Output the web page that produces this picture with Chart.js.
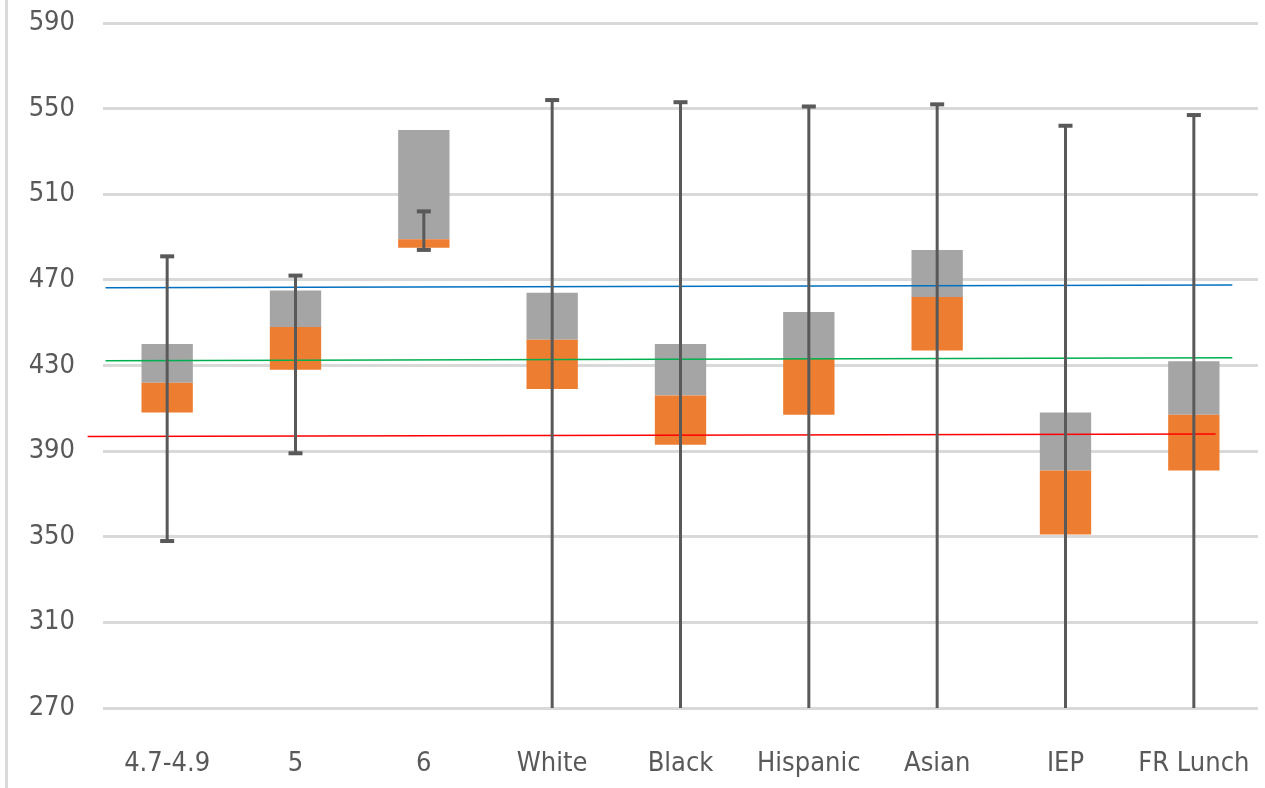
<!DOCTYPE html>
<html>
<head>
<meta charset="utf-8">
<script src="https://cdn.jsdelivr.net/npm/chart.js@4/dist/chart.umd.min.js"></script>
<style>
  html, body { margin: 0; padding: 0; background: #ffffff; }
  #wrap { position: relative; width: 1265px; height: 788px; }
</style>
</head>
<body>
<div id="wrap"><canvas id="c" width="1265" height="788"></canvas></div>
<script>
const categories = ['4.7-4.9', '5', '6', 'White', 'Black', 'Hispanic', 'Asian', 'IEP', 'FR Lunch'];
const q1Values     = [408, 428, 485, 419, 393, 407, 437, 351, 381];
const medianValues = [422, 448, 489, 442, 416, 433, 462, 381, 407];
const q3Values     = [440, 465, 540, 464, 440, 455, 484, 408, 432];
const whiskerHigh  = [481, 472, 502, 554, 553, 551, 552, 542, 547];
const whiskerLow   = [348, 389, 484, 260, 260, 260, 260, 260, 260];
const yTicks = [270, 310, 350, 390, 430, 470, 510, 550, 590];
// Reference lines: [x position in category units, value]
const blueLine  = [[-0.48, 466.3], [8.30, 467.6]];
const greenLine = [[-0.48, 432.2], [8.30, 433.6]];
const redLine   = [[-0.62, 396.8], [8.17, 398.0]];

const FONT = "'DejaVu Sans Condensed', 'DejaVu Sans', sans-serif";

const lowerBox = categories.map((c, i) => [q1Values[i], medianValues[i]]);
const upperBox = categories.map((c, i) => [medianValues[i], q3Values[i]]);
const toPts = arr => arr.map(p => ({ x: p[0], y: p[1] }));

const framePlugin = {
  id: 'frame',
  beforeDraw(chart) {
    const ctx = chart.ctx;
    ctx.save();
    ctx.fillStyle = '#ffffff';
    ctx.fillRect(0, 0, chart.width, chart.height);
    ctx.fillStyle = '#d9d9d9';
    ctx.fillRect(5, 0, 3, chart.height);
    ctx.restore();
  }
};

const whiskerPlugin = {
  id: 'whiskers',
  afterDatasetsDraw(chart) {
    const { ctx, chartArea, scales } = chart;
    const x = scales.x, y = scales.y;
    ctx.save();
    ctx.beginPath();
    ctx.rect(chartArea.left, chartArea.top - 10, chartArea.right - chartArea.left, chartArea.bottom - chartArea.top + 10);
    ctx.clip();
    ctx.strokeStyle = '#595959';
    ctx.fillStyle = '#595959';
    ctx.lineWidth = 3;
    categories.forEach((c, i) => {
      const cx = x.getPixelForValue(i);
      const yHi = y.getPixelForValue(whiskerHigh[i]);
      const yLo = y.getPixelForValue(whiskerLow[i]);
      ctx.beginPath();
      ctx.moveTo(cx, yHi);
      ctx.lineTo(cx, yLo);
      ctx.stroke();
      ctx.fillRect(cx - 7, yHi - 2, 14, 4);
      ctx.fillRect(cx - 7, yLo - 2, 14, 4);
    });
    ctx.restore();
  }
};

new Chart(document.getElementById('c'), {
  type: 'bar',
  data: {
    labels: categories,
    datasets: [
      { label: 'Q1-Median', data: lowerBox, backgroundColor: '#ED7D31', grouped: false, order: 2,
        categoryPercentage: 1, barPercentage: 0.4 },
      { label: 'Median-Q3', data: upperBox, backgroundColor: '#A5A5A5', grouped: false, order: 2,
        categoryPercentage: 1, barPercentage: 0.4 },
      { type: 'line', label: 'Blue', data: toPts(blueLine), xAxisID: 'x2', borderColor: '#0070C0',
        borderWidth: 1.5, pointRadius: 0, clip: false, order: 1 },
      { type: 'line', label: 'Green', data: toPts(greenLine), xAxisID: 'x2', borderColor: '#00B050',
        borderWidth: 1.5, pointRadius: 0, clip: false, order: 1 },
      { type: 'line', label: 'Red', data: toPts(redLine), xAxisID: 'x2', borderColor: '#FF0000',
        borderWidth: 1.5, pointRadius: 0, clip: false, order: 1 }
    ]
  },
  options: {
    responsive: false,
    animation: false,
    layout: { padding: { top: 23, right: 7, left: 0, bottom: 0 } },
    plugins: { legend: { display: false }, tooltip: { enabled: false } },
    scales: {
      x: {
        type: 'category',
        grid: { display: false, drawTicks: false },
        border: { display: false },
        ticks: { color: '#595959', font: { family: FONT, size: 27 }, padding: 40, maxRotation: 0, autoSkip: false },
        afterFit(s) { s.height = 80; s.paddingLeft = 0; s.paddingRight = 0; }
      },
      x2: {
        type: 'linear', display: false, min: -0.5, max: 8.5, offset: false,
        grid: { offset: false }
      },
      y: {
        min: 270, max: 590,
        afterBuildTicks(s) { s.ticks = yTicks.map(v => ({ value: v })); },
        grid: { color: '#d9d9d9', lineWidth: 3, drawTicks: false },
        border: { display: false },
        ticks: { color: '#595959', font: { family: FONT, size: 27 }, padding: 28 },
        afterFit(s) { s.width = 103; s.paddingTop = 0; s.paddingBottom = 0; }
      }
    }
  },
  plugins: [framePlugin, whiskerPlugin]
});
</script>
</body>
</html>
